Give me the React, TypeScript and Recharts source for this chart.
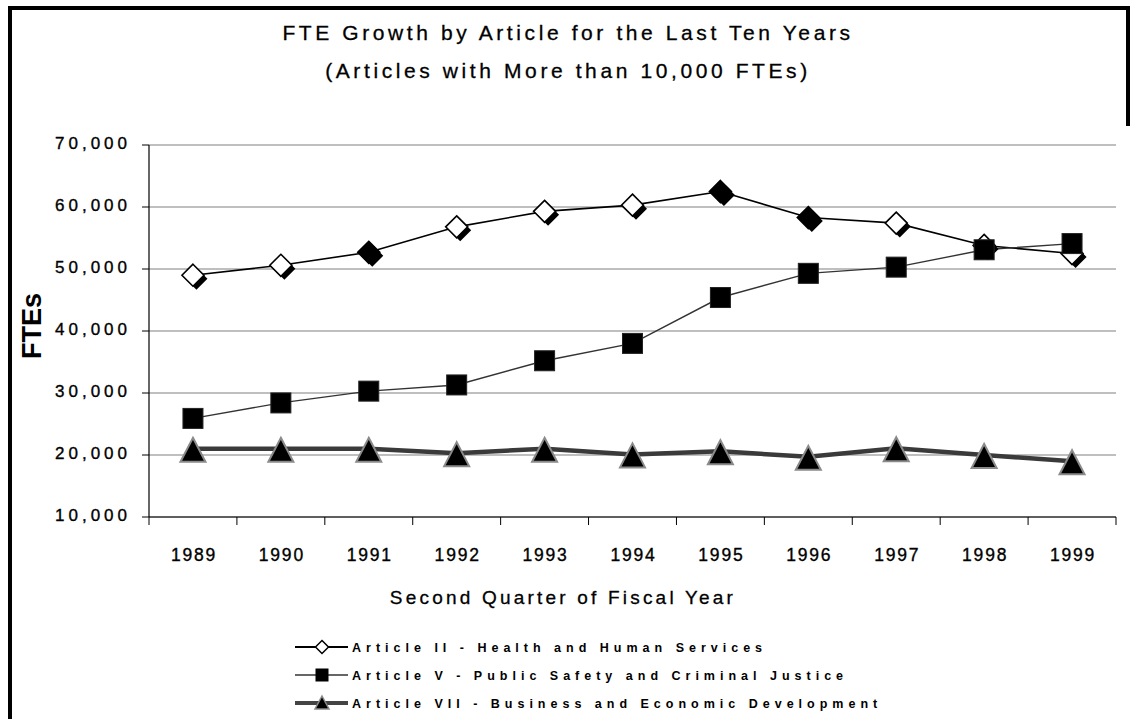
import React from 'react';
import { LineChart, Line, XAxis, YAxis, CartesianGrid } from 'recharts';

// values
const years = ['1989', '1990', '1991', '1992', '1993', '1994', '1995', '1996', '1997', '1998', '1999'];
const healthHumanServices = [49000, 50600, 52700, 56800, 59300, 60300, 62500, 58300, 57400, 53800, 52500];
const publicSafety = [25900, 28400, 30300, 31300, 35200, 38000, 45400, 49300, 50300, 53100, 54100];
const businessEconomic = [21000, 21000, 21000, 20300, 21000, 20100, 20600, 19700, 21100, 20000, 19000];
const yTicks = [10000, 20000, 30000, 40000, 50000, 60000, 70000];
// diamonds that came out fully black in the original
const solidDiamondYears = ['1991', '1995', '1996'];

const titleLines = ['FTE Growth by Article for the Last Ten Years', '(Articles with More than 10,000 FTEs)'];
const yLabel = 'FTEs';
const xLabel = 'Second Quarter of Fiscal Year';
const seriesNames = [
  'Article II - Health and Human Services',
  'Article V - Public Safety and Criminal Justice',
  'Article VII - Business and Economic Development',
];

const data = years.map((year, i) => ({
  year,
  art2: healthHumanServices[i],
  art5: publicSafety[i],
  art7: businessEconomic[i],
}));

const FONT = '"Liberation Sans", Arial, sans-serif';
const W = 1135;
const H = 719;
const PLOT_LEFT = 149;
const PLOT_RIGHT = 1116;
const PLOT_TOP = 145;
const PLOT_BOTTOM = 517;
const BAND = (PLOT_RIGHT - PLOT_LEFT) / years.length;

function diamondPts(cx: number, cy: number, r: number) {
  return `${cx},${cy - r} ${cx + r},${cy} ${cx},${cy + r} ${cx - r},${cy}`;
}

function DiamondDot(props: any) {
  const { cx, cy, payload } = props;
  if (cx == null || cy == null) return null;
  const solid = solidDiamondYears.includes(payload.year);
  return (
    <g>
      <polygon points={diamondPts(cx + 3.5, cy + 3.5, 11)} fill="#000" />
      <polygon points={diamondPts(cx, cy, 11)} fill={solid ? '#000' : '#fff'} stroke="#000" strokeWidth={1.6} />
    </g>
  );
}

function SquareDot(props: any) {
  const { cx, cy } = props;
  if (cx == null || cy == null) return null;
  return <rect x={cx - 10} y={cy - 10} width={20} height={20} fill="#000" stroke="#222" strokeWidth={1} />;
}

function TriangleDot(props: any) {
  const { cx, cy } = props;
  if (cx == null || cy == null) return null;
  return (
    <polygon
      points={`${cx},${cy - 11} ${cx + 12.5},${cy + 13} ${cx - 12.5},${cy + 13}`}
      fill="#000"
      stroke="#8a8a8a"
      strokeWidth={2}
    />
  );
}

function YearTick(props: any) {
  const { x, payload, index } = props;
  return (
    <g>
      {index === 0 && <line x1={x - BAND / 2} y1={PLOT_BOTTOM} x2={x - BAND / 2} y2={PLOT_BOTTOM + 8} stroke="#000" />}
      <line x1={x + BAND / 2} y1={PLOT_BOTTOM} x2={x + BAND / 2} y2={PLOT_BOTTOM + 8} stroke="#000" />
      <text
        x={x + 1}
        y={PLOT_BOTTOM + 44}
        textAnchor="middle"
        fontFamily={FONT}
        fontSize={17.5}
        letterSpacing={1.8}
        fill="#000"
        stroke="#000"
        strokeWidth={0.35}
      >
        {payload.value}
      </text>
    </g>
  );
}

function ValueTick(props: any) {
  const { y, payload } = props;
  return (
    <text
      x={131}
      y={y + 3.5}
      textAnchor="end"
      fontFamily={FONT}
      fontSize={17}
      letterSpacing={4}
      fill="#000"
      stroke="#000"
      strokeWidth={0.35}
    >
      {payload.value.toLocaleString('en-US')}
    </text>
  );
}

function LegendRow({ y, idx }: { y: number; idx: number }) {
  const x1 = 295;
  const x2 = 348;
  const mx = 322;
  return (
    <g>
      {idx === 0 && (
        <>
          <line x1={x1} y1={y} x2={x2} y2={y} stroke="#000" strokeWidth={2} />
          <polygon points={diamondPts(mx, y, 6.5)} fill="#fff" stroke="#000" strokeWidth={1.5} />
        </>
      )}
      {idx === 1 && (
        <>
          <line x1={x1} y1={y} x2={x2} y2={y} stroke="#333" strokeWidth={1.5} />
          <rect x={mx - 6.5} y={y - 6.5} width={13} height={13} fill="#000" />
        </>
      )}
      {idx === 2 && (
        <>
          <line x1={x1} y1={y} x2={x2} y2={y} stroke="#444" strokeWidth={4} />
          <polygon points={`${mx},${y - 7} ${mx + 7},${y + 6} ${mx - 7},${y + 6}`} fill="#000" stroke="#8a8a8a" strokeWidth={1.5} />
        </>
      )}
      <text x={352} y={y + 4.5} fontFamily={FONT} fontSize={12.5} fontWeight="bold" letterSpacing={5} fill="#000">
        {seriesNames[idx]}
      </text>
    </g>
  );
}

export default function App() {
  return (
    <div style={{ position: 'absolute', left: 0, top: 0, width: W, height: H, background: '#fff', fontFamily: FONT }}>
      <LineChart
        width={W}
        height={H}
        data={data}
        margin={{ top: PLOT_TOP, right: W - PLOT_RIGHT, bottom: H - PLOT_BOTTOM - 40, left: 0 }}
      >
        <CartesianGrid vertical={false} stroke="#808080" strokeWidth={1.2} />
        <XAxis
          dataKey="year"
          height={40}
          padding={{ left: BAND / 2, right: BAND / 2 }}
          axisLine={{ stroke: '#000', strokeWidth: 1.2 }}
          tickLine={false}
          tickSize={0}
          tickMargin={0}
          interval={0}
          tick={YearTick}
        />
        <YAxis
          width={PLOT_LEFT}
          domain={[10000, 70000]}
          ticks={yTicks}
          interval={0}
          tickSize={7}
          axisLine={{ stroke: '#000', strokeWidth: 1.2 }}
          tickLine={{ stroke: '#000' }}
          tick={ValueTick}
        />
        <YAxis
          yAxisId="frame"
          orientation="right"
          width={0}
          domain={[10000, 70000]}
          tick={false}
          tickLine={false}
          axisLine={{ stroke: '#404040', strokeWidth: 1.2 }}
        />
        <Line
          dataKey="art2"
          stroke="#000"
          strokeWidth={1.6}
          isAnimationActive={false}
          dot={(p: any) => <DiamondDot key={`d-${p.index}`} {...p} />}
        />
        <Line
          dataKey="art5"
          stroke="#333"
          strokeWidth={1.4}
          isAnimationActive={false}
          dot={(p: any) => <SquareDot key={`s-${p.index}`} {...p} />}
        />
        <Line
          dataKey="art7"
          stroke="#3a3a3a"
          strokeWidth={4.5}
          isAnimationActive={false}
          dot={(p: any) => <TriangleDot key={`t-${p.index}`} {...p} />}
        />
      </LineChart>

      <svg
        width={W}
        height={H}
        style={{ position: 'absolute', left: 0, top: 0, pointerEvents: 'none' }}
      >
        <rect x={8} y={6} width={4} height={H - 6} fill="#000" />
        <rect x={8} y={6} width={1122} height={4} fill="#000" />
        <rect x={1126} y={6} width={4} height={120} fill="#000" />

        <text x={568} y={40} textAnchor="middle" fontFamily={FONT} fontSize={21} letterSpacing={3.6} fill="#000" stroke="#000" strokeWidth={0.3}>
          {titleLines[0]}
        </text>
        <text x={568} y={78} textAnchor="middle" fontFamily={FONT} fontSize={21} letterSpacing={3.6} fill="#000" stroke="#000" strokeWidth={0.3}>
          {titleLines[1]}
        </text>

        <text
          transform="translate(41,326) rotate(-90)"
          textAnchor="middle"
          fontFamily={FONT}
          fontSize={27}
          fontWeight="bold"
          fill="#000"
        >
          {yLabel}
        </text>

        <text x={563} y={604} textAnchor="middle" fontFamily={FONT} fontSize={19} letterSpacing={3.2} fill="#000" stroke="#000" strokeWidth={0.3}>
          {xLabel}
        </text>

        {[647, 675, 703].map((y, i) => (
          <LegendRow key={i} y={y} idx={i} />
        ))}
      </svg>
    </div>
  );
}
